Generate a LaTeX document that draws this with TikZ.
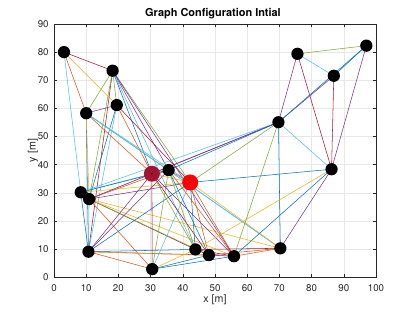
\documentclass[tikz,border=0pt]{standalone}
\usepackage{fontspec}
\setmainfont{TeX Gyre Heros}
\definecolor{mb}{rgb}{0,0.447,0.741}
\definecolor{mo}{rgb}{0.85,0.325,0.098}
\definecolor{my}{rgb}{0.929,0.694,0.125}
\definecolor{mp}{rgb}{0.494,0.184,0.556}
\definecolor{mg}{rgb}{0.466,0.674,0.188}
\definecolor{ml}{rgb}{0.301,0.745,0.933}
\definecolor{mr}{rgb}{0.635,0.078,0.184}
\definecolor{axgray}{rgb}{0.15,0.15,0.15}
\definecolor{gridgray}{rgb}{0.91,0.91,0.91}
\tikzset{
  gridline/.style={gridgray, line width=0.4pt},
  ticklab/.style={text=axgray, font=\fontsize{7.3}{8}\selectfont, inner sep=0pt},
  edge/.style={line width=0.4pt},
  agent/.style={circle, fill=black, minimum size=9.2pt, inner sep=0pt},
  bigagent/.style={circle, minimum size=12pt, inner sep=0pt},
}
\begin{document}
\begin{tikzpicture}[x=0.75pt,y=-0.75pt]
\useasboundingbox (0,0) rectangle (415,312);
\fill[white] (0,0) rectangle (415,312);
\node[font=\bfseries\fontsize{8.2}{10}\selectfont, text=black] (title) at (213,14) {Graph Configuration Intial};
\node[font=\fontsize{8}{10}\selectfont, text=axgray] (xlab) at (215,300) {x [m]};
\node[font=\fontsize{8}{10}\selectfont, text=axgray, rotate=90] (ylab) at (33,150.5) {y [m]};
\begin{scope}[shift={(54,277.3)}, x=2.415pt, y=2.111pt]
  % grid
  \foreach \gx in {10,20,...,90} \draw[gridline] (\gx,0) -- (\gx,90);
  \foreach \gy in {10,20,...,80} \draw[gridline] (0,\gy) -- (100,\gy);
  % tick labels
  \foreach \gx in {0,10,...,100} \node[ticklab, anchor=north] at (\gx,-2.6) {\gx};
  \foreach \gy in {0,10,...,90} \node[ticklab, anchor=east] at (-1.6,\gy) {\gy};
  % nodes coordinates
  \coordinate (A) at (3.1,80.0);
  \coordinate (B) at (18.2,73.4);
  \coordinate (C) at (19.5,61.2);
  \coordinate (D) at (10.0,58.3);
  \coordinate (E) at (75.6,79.4);
  \coordinate (F) at (97.0,82.3);
  \coordinate (G) at (86.9,71.6);
  \coordinate (H) at (69.7,55.1);
  \coordinate (I) at (86.2,38.4);
  \coordinate (J) at (70.3,10.3);
  \coordinate (K) at (55.9,7.5);
  \coordinate (L) at (48.1,7.9);
  \coordinate (M) at (43.9,9.9);
  \coordinate (N) at (30.5,2.9);
  \coordinate (O) at (10.7,9.1);
  \coordinate (P) at (8.3,30.2);
  \coordinate (Q) at (10.9,27.8);
  \coordinate (R) at (30.4,36.8);
  \coordinate (S) at (35.6,38.1);
  \coordinate (T) at (42.3,33.7);
  % edges
  \foreach \a/\b/\c in {
    A/B/mr, A/D/mo, A/C/my, A/P/ml,
    B/C/mg, B/D/mg, B/O/mr, B/Q/mg, B/R/mb, B/S/mp, B/T/mg, B/M/ml, B/K/mp,
    C/D/mp, C/R/mo, C/T/mr, C/O/ml, C/Q/mb,
    D/O/mb, D/Q/my, D/S/mg, D/T/ml, D/R/mo, D/J/ml,
    P/Q/mb, P/O/mb, Q/O/ml, P/R/ml, P/S/mb, P/T/my, P/H/ml,
    Q/R/my, Q/T/mp, Q/S/mo, Q/M/mr, Q/L/mg, Q/K/my, Q/N/mo, Q/H/mp, Q/J/my,
    O/R/mp, O/S/mp, O/T/mb, O/M/mb, O/L/mr, O/K/my, O/N/mo,
    N/R/mr, N/S/mg, N/T/ml, N/M/my, N/L/mb, N/K/mb,
    R/S/mp, R/T/my, S/T/mo, R/L/mr, R/K/mp, R/M/mg, S/M/mg, S/L/mb, S/K/mo, S/J/ml,
    T/M/mb, T/L/mo, T/K/mo, T/J/my, T/H/mg, T/I/mb, R/H/mp, S/H/mb,
    M/L/mb, L/K/mp, M/K/mr, M/J/mr, L/J/mo, K/J/mo,
    E/F/mg, E/G/ml, G/F/mb, F/I/mp, E/I/mr, G/I/mr,
    H/E/mp, H/G/mp, H/F/mb, H/I/ml, H/J/mb, H/K/mg,
    I/J/mp, I/K/mb, I/M/my}
    \draw[edge, \c] (\a) -- (\b);
  % agents
  \foreach \n in {A,B,C,D,E,F,G,H,I,J,K,L,M,N,O,P,Q,S}
    \node[agent] (n\n) at (\n) {};
  \node[bigagent, fill=mr] (nR) at (R) {};
  \node[bigagent, fill=red] (nT) at (T) {};
  \fill[black] (R) circle (0.6pt);
  \fill[black] (T) circle (0.6pt);
  % axes box and ticks
  \draw[axgray, line width=0.4pt] (0,0) rectangle (100,90);
  \foreach \gx in {0,10,...,100} {
    \draw[axgray, line width=0.4pt] (\gx,0) -- ++(0,1.1);
    \draw[axgray, line width=0.4pt] (\gx,90) -- ++(0,-1.1);
  }
  \foreach \gy in {0,10,...,90} {
    \draw[axgray, line width=0.4pt] (0,\gy) -- ++(1.0,0);
    \draw[axgray, line width=0.4pt] (100,\gy) -- ++(-1.0,0);
  }
\end{scope}
\end{tikzpicture}
\end{document}
